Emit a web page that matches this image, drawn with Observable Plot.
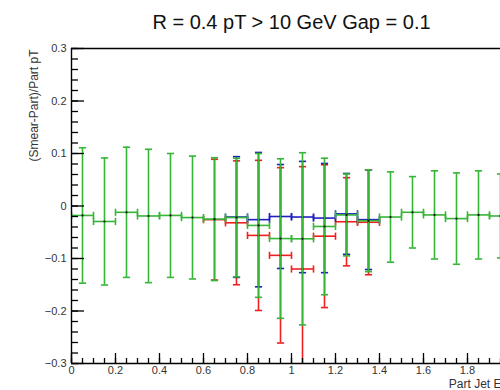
<!DOCTYPE html>
<html>
<head>
<meta charset="utf-8">
<script src="https://cdn.jsdelivr.net/npm/d3@7"></script>
<script src="https://cdn.jsdelivr.net/npm/@observablehq/plot@0.6"></script>
<style>
  html, body { margin: 0; padding: 0; background: #fff; overflow: hidden; }
  #chart svg { display: block; }
</style>
</head>
<body>
<div id="chart"></div>
<script>
// ---- Data ----
const titleText = "R = 0.4 pT > 10 GeV Gap = 0.1";
const xTitle = "Part Jet Eta";
const yTitle = "(Smear-Part)/Part pT";

const binHalfWidth = 0.05;

const greenX   = [0.05, 0.15, 0.25, 0.35, 0.45, 0.55, 0.65, 0.75, 0.85, 0.95, 1.05, 1.15, 1.25, 1.35, 1.45, 1.55, 1.65, 1.75, 1.85, 1.95];
const greenY   = [-0.018, -0.0295, -0.012, -0.019, -0.018, -0.022, -0.025, -0.022, -0.037, -0.062, -0.0625, -0.039, -0.017, -0.028, -0.021, -0.012, -0.017, -0.024, -0.017, -0.019];
const greenErr = [0.129, 0.121, 0.124, 0.127, 0.118, 0.117, 0.117, 0.113, 0.137, 0.152, 0.164, 0.130, 0.078, 0.097, 0.086, 0.068, 0.084, 0.087, 0.084, 0.080];

const redX   = [0.65, 0.75, 0.85, 0.95, 1.05, 1.15, 1.25, 1.35];
const redY   = [-0.026, -0.032, -0.056, -0.094, -0.120, -0.0575, -0.030, -0.031];
const redErr = [0.115, 0.118, 0.143, 0.167, 0.195, 0.136, 0.084, 0.100];

const blueX   = [0.75, 0.85, 0.95, 1.05, 1.15, 1.25, 1.35];
const blueY   = [-0.021, -0.026, -0.020, -0.021, -0.023, -0.015, -0.026];
const blueErr = [0.115, 0.128, 0.099, 0.106, 0.104, 0.077, 0.095];

const xTickLabels = [0, 0.2, 0.4, 0.6, 0.8, 1, 1.2, 1.4, 1.6, 1.8];
const yTickLabels = [-0.3, -0.2, -0.1, 0, 0.1, 0.2, 0.3];

const seriesColors = {red: "#f02020", blue: "#2020c0", green: "#36b536"};

// ---- Build rows ----
function rows(name, xs, ys, es) {
  return xs.map((x, i) => ({series: name, x, y: ys[i], err: es[i]}));
}
const seriesData = [
  ["red", rows("red", redX, redY, redErr)],
  ["blue", rows("blue", blueX, blueY, blueErr)],
  ["green", rows("green", greenX, greenY, greenErr)]
];

const xMinor = d3.range(0, 41).map(i => +(i * 0.05).toFixed(2));
const yMinor = d3.range(0, 31).map(i => +(-0.3 + i * 0.02).toFixed(2));

const capH = {draw(ctx, size) { const r = Math.sqrt(size / Math.PI); ctx.moveTo(-r, 0); ctx.lineTo(r, 0); }};
const capV = {draw(ctx, size) { const r = Math.sqrt(size / Math.PI); ctx.moveTo(0, -r); ctx.lineTo(0, r); }};

const W = 500, H = 390, mL = 71, mR = -11, mT = 48, mB = 27;
const plotW = W - mL - mR, plotH = H - mT - mB;

const fmt = d => d === 0 ? "0" : (d3.format(".1f")(d)).replace("-", "\u2212");
const fmtX = d => d === 0 ? "0" : d === 1 ? "1" : d3.format(".1f")(d);

const marks = [];
// error bars
for (const [name, data] of seriesData) {
  const c = seriesColors[name];
  const sw = 1.6;
  marks.push(
    Plot.ruleY(data, {y: "y", x1: d => d.x - binHalfWidth, x2: d => d.x + binHalfWidth, stroke: c, strokeWidth: sw, clip: true}),
    Plot.ruleX(data, {x: "x", y1: d => d.y - d.err, y2: d => d.y + d.err, stroke: c, strokeWidth: sw, clip: true}),
    Plot.dot(data, {x: "x", y: d => d.y + d.err, symbol: capH, r: 3.6, stroke: c, strokeWidth: sw, fill: "none", clip: true}),
    Plot.dot(data, {x: "x", y: d => d.y - d.err, symbol: capH, r: 3.6, stroke: c, strokeWidth: sw, fill: "none", clip: true}),
    Plot.dot(data, {x: d => d.x - binHalfWidth, y: "y", symbol: capV, r: 3.6, stroke: c, strokeWidth: sw, fill: "none", clip: true}),
    Plot.dot(data, {x: d => d.x + binHalfWidth, y: "y", symbol: capV, r: 3.6, stroke: c, strokeWidth: sw, fill: "none", clip: true}),
    Plot.dot(data, {x: "x", y: "y", r: 1.1, fill: "#111", stroke: "none", clip: true})
  );
}
// frame lines
marks.push(
  Plot.ruleY([-0.3, 0.3], {stroke: "#000", strokeWidth: 1.4}),
  Plot.ruleX([0], {stroke: "#000", strokeWidth: 1.4}),
  // y ticks (pointing inward)
  Plot.tickY(yTickLabels, {y: d => d, insetRight: plotW - 13, stroke: "#000", strokeWidth: 1.3}),
  Plot.tickY(yMinor, {y: d => d, insetRight: plotW - 7, stroke: "#000", strokeWidth: 1.3}),
  // x ticks
  Plot.tickX(xTickLabels, {x: d => d, insetTop: plotH - 10, stroke: "#000", strokeWidth: 1.3}),
  Plot.tickX(xMinor, {x: d => d, insetTop: plotH - 5, stroke: "#000", strokeWidth: 1.3}),
  // tick labels
  Plot.text(yTickLabels, {y: d => d, frameAnchor: "left", dx: -5, textAnchor: "end", text: fmt, fontSize: 11, fill: "#333"}),
  Plot.text(xTickLabels, {x: d => d, frameAnchor: "bottom", lineAnchor: "top", dy: 3, text: fmtX, fontSize: 11, fill: "#333"}),
  // axis titles
  Plot.text([yTitle], {frameAnchor: "top-left", rotate: -90, textAnchor: "end", dx: -42, dy: 1, fontSize: 12, fill: "#333"}),
  Plot.text([xTitle], {frameAnchor: "bottom-right", textAnchor: "end", lineAnchor: "middle", dy: 21, fontSize: 12, fill: "#333"}),
  // title
  Plot.text([titleText], {frameAnchor: "top", lineAnchor: "bottom", dy: -20, fontSize: 20, fill: "#111"})
);

const chart = Plot.plot({
  width: W, height: H,
  marginLeft: mL, marginRight: mR, marginTop: mT, marginBottom: mB,
  x: {domain: [0, 2], axis: null},
  y: {domain: [-0.3, 0.3], axis: null},
  style: {fontFamily: "'Liberation Sans', Arial, Helvetica, sans-serif", background: "#fff", overflow: "hidden"},
  marks
});
document.getElementById("chart").appendChild(chart);
</script>
</body>
</html>
